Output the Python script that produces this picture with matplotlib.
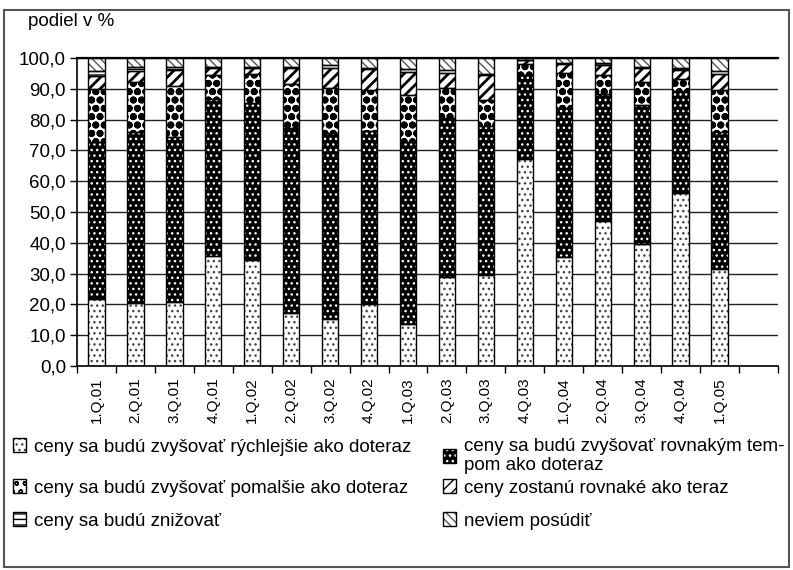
import matplotlib
matplotlib.use("Agg")
import matplotlib.pyplot as plt
from matplotlib.patches import Patch, Rectangle

# quarters on the x axis
quarters = ["1.Q.01", "2.Q.01", "3.Q.01", "4.Q.01", "1.Q.02", "2.Q.02",
            "3.Q.02", "4.Q.02", "1.Q.03", "2.Q.03", "3.Q.03", "4.Q.03",
            "1.Q.04", "2.Q.04", "3.Q.04", "4.Q.04", "1.Q.05"]

# shares in %
rychlejsie = [21.7, 20.3, 20.7, 35.7, 34.3, 17.2, 15.3, 20.0, 13.7, 28.8, 29.7, 67.1, 35.5, 47.0, 39.5, 56.3, 31.6]
rovnakym = [51.1, 55.7, 53.5, 51.1, 51.1, 60.2, 60.4, 56.2, 59.1, 51.6, 48.2, 27.4, 48.4, 41.2, 45.2, 33.0, 44.4]
pomalsie = [17.0, 16.2, 16.6, 7.6, 9.3, 14.3, 14.7, 13.3, 15.1, 9.7, 8.6, 3.5, 11.1, 6.2, 7.5, 4.0, 13.5]
rovnake = [4.2, 3.6, 5.2, 2.2, 1.9, 4.9, 6.5, 6.8, 7.6, 4.9, 7.9, 1.3, 2.9, 3.3, 4.4, 2.7, 5.2]
znizovat = [1.8, 1.2, 1.1, 0.5, 0.5, 0.5, 0.7, 0.5, 1.0, 1.1, 0.3, 0.0, 0.6, 0.6, 0.4, 0.6, 1.0]
neviem = [4.2, 3.0, 2.9, 2.9, 2.9, 2.9, 2.4, 3.2, 3.5, 3.9, 5.3, 0.7, 1.5, 1.7, 3.0, 3.4, 4.3]

labels = ["ceny sa budú zvyšovať rýchlejšie ako doteraz",
          "ceny sa budú zvyšovať rovnakým tem-\npom ako doteraz",
          "ceny sa budú zvyšovať pomalšie ako doteraz",
          "ceny zostanú rovnaké ako teraz",
          "ceny sa budú znižovať",
          "neviem posúdiť"]

y_ticks = [0, 10, 20, 30, 40, 50, 60, 70, 80, 90, 100]

plt.rcParams['font.family'] = ['Liberation Sans', 'DejaVu Sans']

# face colour, hatch colour, hatch, hatch line width
styles = [
    ("white", "#444444", "...", 1.0),
    ("black", "white", "...", 1.0),
    ("white", "black", "oo", 2.6),
    ("white", "black", "///", 2.0),
    ("white", "black", "---", 1.0),
    ("white", "#555555", "\\\\\\\\", 1.0),
]

series = [rychlejsie, rovnakym, pomalsie, rovnake, znizovat, neviem]

fig = plt.figure(figsize=(7.93, 5.70), dpi=100)
ax = fig.add_axes([77 / 793, 1 - 366 / 570, 701 / 793, 308 / 570])

x = list(range(len(quarters)))
width = 0.42
bottom = [0.0] * len(quarters)
handles = []
for vals, (face, hcol, hatch, hlw) in zip(series, styles):
    with plt.rc_context({'hatch.linewidth': hlw}):
        ax.bar(x, vals, width, bottom=bottom, color=face, edgecolor=hcol,
               hatch=hatch, linewidth=0, zorder=2)
        fill_h = Patch(facecolor=face, edgecolor=hcol, hatch=hatch, linewidth=0)
    box_h = Patch(fill=False, edgecolor="black", linewidth=1.0)
    handles.append((fill_h, box_h))
    ax.bar(x, vals, width, bottom=bottom, fill=False, edgecolor="black",
           linewidth=1.0, zorder=3)
    bottom = [b + v for b, v in zip(bottom, vals)]

# axes
ax.set_xlim(-0.5, len(quarters) + 0.5)
ax.set_ylim(0, 100)
ax.set_yticks(y_ticks)
ax.set_yticklabels([f"{v:.1f}".replace(".", ",") for v in y_ticks], fontsize=13.5)
ax.tick_params(axis="y", direction="out", length=5, width=1, pad=3)
ax.set_xticks([i - 0.5 for i in range(len(quarters) + 2)])
ax.set_xticklabels([])
ax.set_xticks(x, minor=True)
ax.set_xticklabels(quarters, minor=True, rotation=90, fontsize=11)
ax.tick_params(axis="x", which="major", direction="out", length=5, width=1)
ax.tick_params(axis="x", which="minor", length=0, pad=8)

ax.yaxis.grid(True, color="#222222", linewidth=1.0)
ax.set_axisbelow(True)
ax.spines["right"].set_visible(False)
ax.spines["top"].set_linewidth(1.6)
ax.spines["left"].set_linewidth(1.2)
ax.spines["bottom"].set_linewidth(1.2)

fig.text(28 / 793, 1 - 22 / 570, "podiel v %", fontsize=13.5, va="center", ha="left")

# legend, one entry per place (two columns, rows aligned)
spots = [(13, 447), (443, 456), (13, 488), (443, 488), (13, 521), (443, 521)]
for h, lab, (px, py) in zip(handles, labels, spots):
    fig.legend([h], [lab], loc="center left",
               bbox_to_anchor=(px / 793, 1 - py / 570), frameon=False,
               fontsize=13.5, handlelength=0.7, handleheight=0.7,
               handletextpad=0.4, borderpad=0, borderaxespad=0)

# outer frame
fig.patches.append(Rectangle((4 / 793, 3 / 570), 785 / 793, 557 / 570,
                             transform=fig.transFigure, fill=False,
                             edgecolor="#555555", linewidth=1.5))

fig.savefig("out.png", dpi=100)
